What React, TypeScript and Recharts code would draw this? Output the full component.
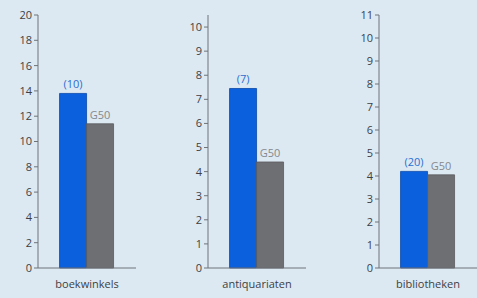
import { BarChart, Bar, XAxis, YAxis, LabelList } from 'recharts';

const CATEGORIES = ['boekwinkels', 'antiquariaten', 'bibliotheken'];
const BLUE_VALUES = [13.8, 7.45, 4.2];
const GRAY_VALUES = [11.4, 4.4, 4.05];
const COUNT_LABELS = ['(10)', '(7)', '(20)'];
const GRAY_LABEL = 'G50';
const Y_MAX = [20, 10.5, 11];
const Y_TICKS = [
    [0, 2, 4, 6, 8, 10, 12, 14, 16, 18, 20],
    [0, 1, 2, 3, 4, 5, 6, 7, 8, 9, 10],
    [0, 1, 2, 3, 4, 5, 6, 7, 8, 9, 10, 11],
];

const LEFTS = [0, 170, 341];
const FONT = '"Open Sans", sans-serif';
const AXIS_COLOR = '#6f7378';

function SmallChart({ index }: { index: number }) {
    const data = [
        {
            name: CATEGORIES[index],
            blue: BLUE_VALUES[index],
            gray: GRAY_VALUES[index],
            count: COUNT_LABELS[index],
            g: GRAY_LABEL,
        },
    ];
    return (
        <div style={{ position: 'absolute', left: LEFTS[index], top: 0 }}>
            <BarChart
                width={136}
                height={298}
                data={data}
                margin={{ top: 15, right: 0, left: 0, bottom: 0 }}
                barCategoryGap="22%"
                barGap={0}
            >
                <XAxis
                    dataKey="name"
                    height={30}
                    tickLine={false}
                    stroke={AXIS_COLOR}
                    tick={{ fill: '#3c3f44', fontSize: 11, fontFamily: FONT }}
                    tickMargin={6}
                />
                <YAxis
                    width={38}
                    domain={[0, Y_MAX[index]]}
                    ticks={Y_TICKS[index]}
                    interval={0}
                    tickSize={4}
                    stroke={AXIS_COLOR}
                    tick={{ fill: '#3c3f44', fontSize: 11, fontFamily: FONT }}
                />
                <Bar dataKey="blue" fill="#0b60de" stroke="#0a47a8" strokeWidth={0.8} isAnimationActive={false}>
                    <LabelList dataKey="count" position="top" offset={5} fill="#2b6fd0" fontSize={11} fontFamily={FONT} />
                </Bar>
                <Bar dataKey="gray" fill="#6e6f73" stroke="#5a5b5f" strokeWidth={0.8} isAnimationActive={false}>
                    <LabelList dataKey="g" position="top" offset={5} fill="#85888c" fontSize={11} fontFamily={FONT} />
                </Bar>
            </BarChart>
        </div>
    );
}

export default function App() {
    return (
        <div
            style={{
                position: 'fixed',
                left: 0,
                top: 0,
                width: 477,
                height: 298,
                background: '#dce9f3',
                overflow: 'hidden',
            }}
        >
            {CATEGORIES.map((c, i) => (
                <SmallChart key={c} index={i} />
            ))}
        </div>
    );
}
